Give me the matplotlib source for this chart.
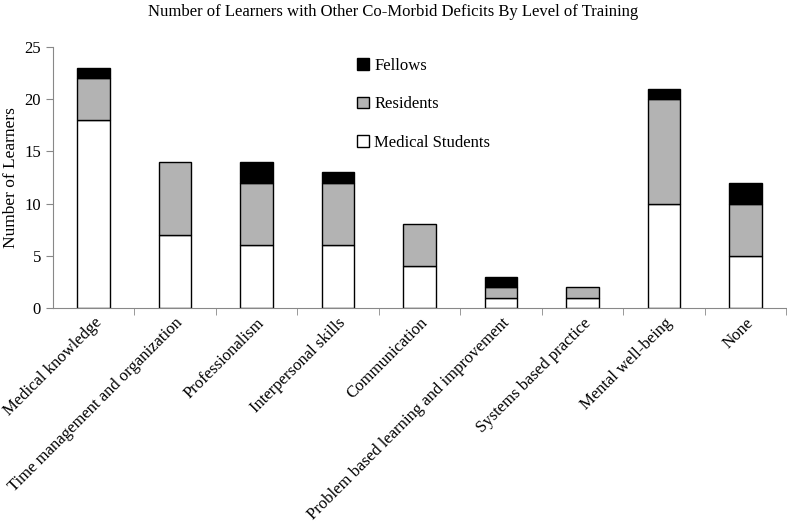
import matplotlib
matplotlib.use('Agg')
from matplotlib import pyplot as plt
import numpy as np

plt.rcParams['font.family'] = ['Liberation Serif', 'DejaVu Serif']

categories = ['Medical knowledge', 'Time management and organization', 'Professionalism',
              'Interpersonal skills', 'Communication', 'Problem based learning and improvement',
              'Systems based practice', 'Mental well-being', 'None']
students = [18, 7, 6, 6, 4, 1, 1, 10, 5]
residents = [4, 7, 6, 6, 4, 1, 1, 10, 5]
fellows = [1, 0, 2, 1, 0, 1, 0, 1, 2]

students = np.array(students)
residents = np.array(residents)
fellows = np.array(fellows)
x = np.arange(len(categories))

fig = plt.figure(figsize=(7.87, 5.32), dpi=100)
ax = fig.add_axes([0.067, 0.421, 0.932, 0.491])

w = 0.4
b1 = ax.bar(x, students, w, color='white', edgecolor='black', linewidth=1, label='Medical Students')
b2 = ax.bar(x, residents, w, bottom=students, color='#b3b3b3', edgecolor='black', linewidth=1, label='Residents')
nz = fellows > 0
b3 = ax.bar(x[nz], fellows[nz], w, bottom=(students + residents)[nz], color='black',
            edgecolor='black', linewidth=1, label='Fellows')

ax.set_xlim(-0.5, len(categories) - 0.5)
ax.set_ylim(0, 25)
ax.set_yticks([0, 5, 10, 15, 20, 25])
ax.set_xticks(x)
ax.set_xticklabels(categories, rotation=45, ha='right', rotation_mode='anchor', fontsize=12)
ax.set_xticks(np.arange(len(categories)) + 0.5, minor=True)
ax.tick_params(axis='x', which='major', length=0, pad=5)
ax.tick_params(axis='x', which='minor', length=5, color='#888888', direction='out')
ax.tick_params(axis='y', length=5, color='#888888', labelsize=12)
for s in ['top', 'right']:
    ax.spines[s].set_visible(False)
for s in ['left', 'bottom']:
    ax.spines[s].set_color('#888888')

ax.set_ylabel('Number of Learners', fontsize=12.5)
fig.text(0.5, 0.977, 'Number of Learners with Other Co-Morbid Deficits By Level of Training',
         ha='center', va='center', fontsize=12)

leg = ax.legend([b3, b2, b1], ['Fellows', 'Residents', 'Medical Students'], frameon=False,
                loc='upper left', bbox_to_anchor=(0.395, 1.015), fontsize=12,
                labelspacing=1.35, handlelength=0.7, handleheight=0.7, handletextpad=0.3)

plt.savefig('out.png', dpi=100)
